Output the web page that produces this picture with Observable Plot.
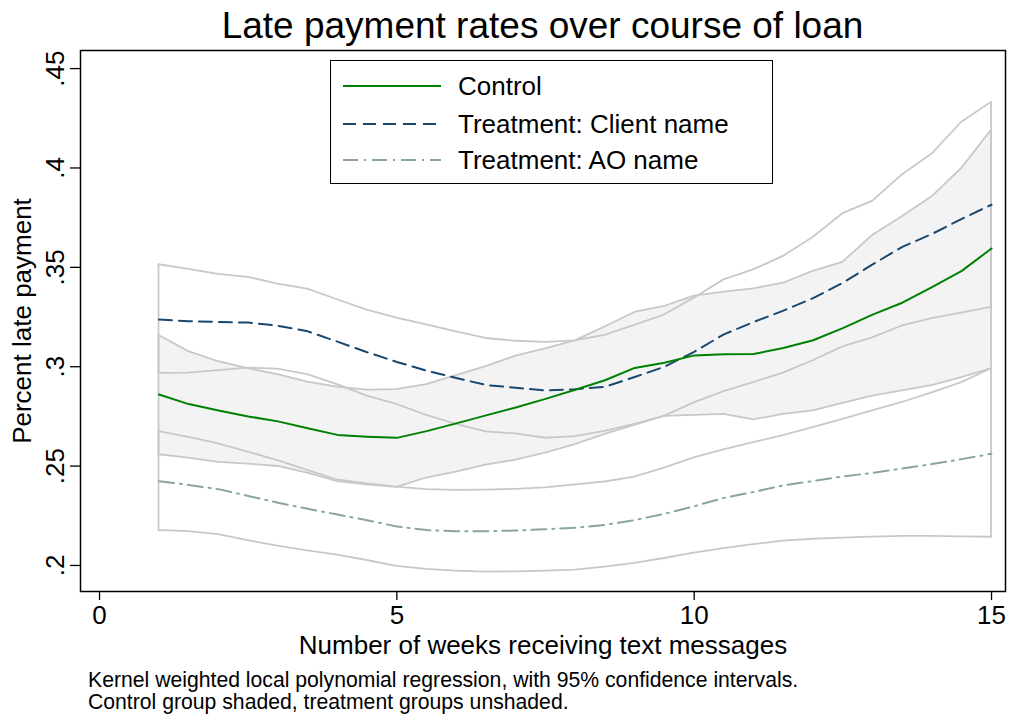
<!DOCTYPE html>
<html>
<head>
<meta charset="utf-8">
<script src="https://cdn.jsdelivr.net/npm/d3@7"></script>
<script src="https://cdn.jsdelivr.net/npm/@observablehq/plot@0.6"></script>
<style>
  body { margin: 0; background: #fff; font-family: "Liberation Sans", Arial, Helvetica, sans-serif; color: #000; }
  #wrap { position: relative; width: 1009px; height: 717px; overflow: hidden; background: #fff; }
  #title { position: absolute; left: 80px; width: 925px; top: 1px; text-align: center; font-size: 37px; line-height: 50px; white-space: nowrap; }
  #chart { position: absolute; left: 0; top: 40px; }
  #legend { position: absolute; left: 330px; top: 60px; width: 443px; height: 124px; box-sizing: border-box; border: 1.5px solid #000; background: #fff; }
  .row { position: absolute; left: 12px; height: 30px; display: flex; align-items: center; font-size: 26px; white-space: nowrap; }
  .row svg { margin-right: 17px; }
  #caption { position: absolute; left: 88px; top: 669px; font-size: 21.2px; line-height: 22px; white-space: nowrap; }
</style>
</head>
<body>
<div id="wrap">
  <div id="title"></div>
  <div id="chart"></div>
  <div id="legend"></div>
  <div id="caption"></div>
</div>
<script>
// ---- Data ----
const weeks = [1, 1.5, 2, 2.5, 3, 3.5, 4, 4.5, 5, 5.5, 6, 6.5, 7, 7.5, 8, 8.5, 9, 9.5, 10, 10.5, 11, 11.5, 12, 12.5, 13, 13.5, 14, 14.5, 15];

const control   = [.2860, .2812, .2780, .2750, .2725, .2690, .2657, .2648, .2642, .2676, .2715, .2755, .2795, .2838, .2884, .2932, .2994, .3020, .3057, .3063, .3064, .3094, .3133, .3194, .3262, .3322, .3400, .3482, .3595];
const controlHi = [.3157, .3076, .3025, .2990, .2960, .2923, .2897, .2882, .2885, .2910, .2955, .3000, .3053, .3090, .3130, .3200, .3273, .3303, .3355, .3375, .3392, .3420, .3480, .3525, .3660, .3755, .3855, .3998, .4190];
const controlLo = [.2557, .2540, .2519, .2510, .2498, .2465, .2422, .2405, .2393, .2440, .2470, .2505, .2530, .2565, .2608, .2660, .2705, .2750, .2755, .2760, .2732, .2760, .2778, .2815, .2852, .2878, .2905, .2945, .2990];

const client    = [.3237, .3229, .3225, .3222, .3206, .3178, .3126, .3073, .3024, .2980, .2943, .2908, .2894, .2881, .2887, .2899, .2948, .3000, .3075, .3163, .3225, .3282, .3345, .3422, .3515, .3603, .3668, .3744, .3815];
const clientHi  = [.3513, .3490, .3465, .3450, .3416, .3390, .3337, .3285, .3244, .3210, .3175, .3142, .3128, .3122, .3130, .3158, .3208, .3260, .3345, .3437, .3487, .3555, .3650, .3770, .3832, .3965, .4070, .4230, .4330];
const clientLo  = [.2966, .2968, .2980, .2993, .2988, .2960, .2910, .2852, .2810, .2755, .2710, .2672, .2662, .2640, .2648, .2675, .2710, .2750, .2818, .2875, .2920, .2968, .3030, .3100, .3145, .3205, .3242, .3270, .3298];

const ao        = [.2424, .2405, .2384, .2350, .2316, .2285, .2256, .2228, .2196, .2178, .2172, .2172, .2176, .2182, .2190, .2204, .2228, .2260, .2298, .2340, .2370, .2403, .2425, .2448, .2466, .2488, .2510, .2535, .2562];
const aoHi      = [.2673, .2645, .2612, .2570, .2528, .2478, .2430, .2410, .2394, .2382, .2378, .2379, .2383, .2390, .2405, .2420, .2445, .2490, .2541, .2582, .2618, .2653, .2693, .2735, .2778, .2820, .2868, .2920, .2990];
const aoLo      = [.2176, .2170, .2155, .2125, .2097, .2073, .2052, .2025, .1995, .1980, .1972, .1966, .1968, .1972, .1977, .1992, .2010, .2035, .2062, .2085, .2105, .2122, .2132, .2138, .2143, .2146, .2146, .2144, .2142];

const xTicks = [0, 5, 10, 15];
const yTicks = [0.2, 0.25, 0.3, 0.35, 0.4, 0.45];

const seriesNames = ["Control", "Treatment: Client name", "Treatment: AO name"];
const titleText = "Late payment rates over course of loan";
const xLabel = "Number of weeks receiving text messages";
const yLabel = "Percent late payment";
const captionLines = [
  "Kernel weighted local polynomial regression, with 95% confidence intervals.",
  "Control group shaded, treatment groups unshaded."
];

// ---- Styles ----
const styles = [
  {stroke: "#008000", dash: null},
  {stroke: "#1a476f", dash: "13,7"},
  {stroke: "#8aa69b", dash: "15,6,2,6"}
];
const ciStroke = "#c8c8c8";

const rows = weeks.map((w, i) => ({
  week: w,
  control: control[i], controlHi: controlHi[i], controlLo: controlLo[i],
  client: client[i], clientHi: clientHi[i], clientLo: clientLo[i],
  ao: ao[i], aoHi: aoHi[i], aoLo: aoLo[i]
}));

const chart = Plot.plot({
  width: 1009,
  height: 625,
  marginTop: 10,
  marginBottom: 74,
  marginLeft: 80,
  marginRight: 4,
  style: {fontFamily: "'Liberation Sans', Arial, Helvetica, sans-serif", fontSize: "26px", color: "#000", background: "transparent"},
  x: {domain: [-0.32, 15.235]},
  y: {domain: [0.1869, 0.4591]},
  marks: [
    Plot.areaY(rows, {x: "week", y1: "controlLo", y2: "controlHi", fill: "#f3f3f3", stroke: ciStroke, strokeWidth: 1.8}),
    Plot.areaY(rows, {x: "week", y1: "clientLo", y2: "clientHi", fill: "none", stroke: ciStroke, strokeWidth: 1.8}),
    Plot.areaY(rows, {x: "week", y1: "aoLo", y2: "aoHi", fill: "none", stroke: ciStroke, strokeWidth: 1.8}),
    Plot.lineY(rows, {x: "week", y: "ao", stroke: styles[2].stroke, strokeWidth: 2, strokeDasharray: styles[2].dash}),
    Plot.lineY(rows, {x: "week", y: "client", stroke: styles[1].stroke, strokeWidth: 2, strokeDasharray: styles[1].dash}),
    Plot.lineY(rows, {x: "week", y: "control", stroke: styles[0].stroke, strokeWidth: 2}),
    Plot.axisX({ticks: xTicks, tickSize: 9, tickPadding: 5, strokeWidth: 1.3, label: xLabel, labelAnchor: "center", labelArrow: "none", labelOffset: 62}),
    Plot.axisY({ticks: yTicks, tickFormat: d => String(d).replace(/^0\./, "."), tickRotate: -90, tickSize: 10, tickPadding: 7, strokeWidth: 1.3,
                label: yLabel, labelAnchor: "center", labelArrow: "none", labelOffset: 68}),
    Plot.frame({stroke: "#000", strokeWidth: 1.5})
  ]
});
document.getElementById("chart").appendChild(chart);

document.getElementById("title").textContent = titleText;

const legend = document.getElementById("legend");
const rowTops = [10, 48, 84];
seriesNames.forEach((name, i) => {
  const row = document.createElement("div");
  row.className = "row";
  row.style.top = rowTops[i] + "px";
  const s = d3.create("svg").attr("width", 98).attr("height", 6);
  s.append("line").attr("x1", 0).attr("x2", 98).attr("y1", 3).attr("y2", 3)
    .attr("stroke", styles[i].stroke).attr("stroke-width", 2)
    .attr("stroke-dasharray", styles[i].dash);
  row.appendChild(s.node());
  const t = document.createElement("span");
  t.textContent = name;
  row.appendChild(t);
  legend.appendChild(row);
});

const cap = document.getElementById("caption");
captionLines.forEach(l => { const d = document.createElement("div"); d.textContent = l; cap.appendChild(d); });
</script>
</body>
</html>
